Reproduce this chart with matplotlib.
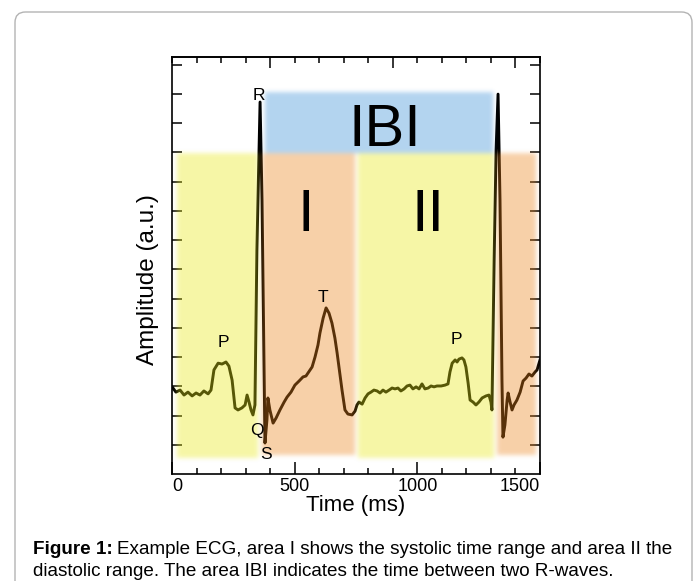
import matplotlib
matplotlib.use("Agg")
import matplotlib.pyplot as plt
from matplotlib.patches import FancyBboxPatch
import numpy as np
from math import erf

plt.rcParams['font.family'] = ['Liberation Sans', 'DejaVu Sans']

# ECG trace (time in ms, amplitude in a.u.)
time_ms = [4, 16, 33, 49, 65, 82, 98, 114, 130, 147, 159, 171, 188, 204, 220, 232, 245, 257,
           269, 285, 298, 306, 314, 322, 330, 338, 346, 359, 367, 375, 379, 387, 391, 399,
           412, 424, 440, 457, 469, 485, 501, 518, 534, 546, 554, 571, 583, 595, 603, 616,
           628, 640, 652, 664, 673, 685, 693, 705, 717, 734, 746, 754, 762, 775, 787, 799,
           811, 823, 836, 848, 860, 872, 885, 897, 909, 921, 933, 946, 958, 970, 982, 995,
           1007, 1019, 1031, 1044, 1056, 1068, 1080, 1097, 1113, 1125, 1133, 1142, 1154,
           1162, 1170, 1182, 1190, 1198, 1207, 1215, 1227, 1239, 1251, 1264, 1280, 1292,
           1300, 1304, 1313, 1321, 1329, 1337, 1345, 1349, 1357, 1366, 1370, 1378, 1386,
           1394, 1406, 1419, 1431, 1443, 1455, 1467, 1480, 1488, 1500]
amplitude = [2.94, 2.80, 2.87, 2.70, 2.80, 2.67, 2.77, 2.70, 2.84, 2.74, 2.87, 3.56, 3.79,
             3.76, 3.83, 3.69, 3.21, 2.26, 2.19, 2.26, 2.36, 2.70, 2.46, 2.19, 2.02, 2.36,
             7.66, 12.72, 9.37, 3.90, 1.06, 1.85, 2.60, 2.19, 1.74, 1.91, 2.19, 2.46, 2.63,
             2.80, 3.04, 3.18, 3.32, 3.35, 3.45, 3.66, 4.00, 4.41, 4.82, 5.33, 5.68, 5.50,
             5.16, 4.65, 4.14, 3.38, 2.87, 2.19, 2.05, 2.02, 2.15, 2.36, 2.46, 2.39, 2.60,
             2.74, 2.80, 2.87, 2.84, 2.77, 2.87, 2.80, 2.87, 2.94, 2.91, 2.94, 2.84, 2.91,
             3.01, 3.04, 2.91, 2.98, 2.91, 3.08, 2.91, 2.94, 3.01, 2.98, 3.01, 3.01, 3.04,
             3.08, 3.49, 3.79, 3.90, 3.83, 3.93, 3.97, 3.90, 3.66, 3.11, 2.53, 2.46, 2.36,
             2.46, 2.60, 2.67, 2.70, 2.46, 2.19, 7.32, 11.08, 12.99, 9.37, 3.21, 1.26, 1.68,
             2.53, 2.77, 2.46, 2.19, 2.36, 2.53, 2.80, 3.18, 3.28, 3.42, 3.35, 3.49, 3.56,
             3.90]

# Shaded areas: (start ms, end ms, bottom, top, colour)
area_start = [20, 367, 758, 1325, 379]
area_end = [351, 746, 1313, 1484, 1309]
area_bottom = [0.55, 0.65, 0.55, 0.65, 10.97]
area_top = [10.97, 10.97, 10.97, 10.97, 13.06]
area_color = ['#f7f7a6', '#f8d0a8', '#f7f7a6', '#f8d0a8', '#b3d4f0']

# Wave annotations
wave_labels = ['R', 'Q', 'S', 'T', 'P', 'P']
wave_x = [353, 347, 383, 615, 210, 1160]
wave_y = [12.95, 1.50, 0.68, 6.05, 4.50, 4.60]

area_labels = ['IBI', 'I', 'II']
area_label_x = [867, 545, 1045]
area_label_y = [11.75, 8.85, 8.85]

xticks = [0, 500, 1000, 1500]
yticks = list(range(1, 15))

fig = plt.figure(figsize=(6.97, 5.81), dpi=100)

# outer rounded frame
frame = FancyBboxPatch((15 / 697, -0.05), (692 - 15) / 697, (581 - 12) / 581 + 0.05,
                       boxstyle="round,pad=0,rounding_size=0.015",
                       transform=fig.transFigure, fc='none', ec='#b4b4b4', lw=1.0,
                       mutation_aspect=697 / 581)
fig.patches.append(frame)

ax = fig.add_axes([172 / 697, 1 - 474 / 581, (540 - 172) / 697, (474 - 57) / 581])
XMAX, YMAX = 1500, 14.26
ax.set_xlim(0, XMAX)
ax.set_ylim(0, YMAX)

ax.plot(time_ms, amplitude, color='black', lw=2.1, zorder=2, solid_joinstyle='round')

# soft-edged translucent areas rendered as an RGBA overlay
alpha = 0.38
nx, ny = 736, 834
gx = (np.arange(nx) + 0.5) / nx * XMAX
gy = (np.arange(ny) + 0.5) / ny * YMAX
verf = np.vectorize(erf)
sx = 2.2 / 0.2453
sy = 2.2 / 29.25


def ramp(v, lo, hi, s):
    return 0.25 * (1 + verf((v - lo) / (s * np.sqrt(2)))) * (1 + verf((hi - v) / (s * np.sqrt(2))))


msum = np.zeros((ny, nx))
csum = np.zeros((ny, nx, 3))
for s, e, b, t, c in zip(area_start, area_end, area_bottom, area_top, area_color):
    m = np.outer(ramp(gy, b, t, sy), ramp(gx, s, e, sx))
    cc = np.array(matplotlib.colors.to_rgb(c))
    cov = np.clip(1 - (1 - cc) / alpha, 0, 1)
    msum += m
    csum += m[..., None] * cov[None, None, :]
mtot = np.clip(msum, 0, 1)
col = csum / np.maximum(msum, 1e-9)[..., None]
rgba = np.dstack([col, alpha * mtot])
ax.imshow(rgba, extent=[0, XMAX, 0, YMAX], origin='lower', aspect='auto', zorder=3,
          interpolation='bilinear')

for lab, x, y in zip(wave_labels, wave_x, wave_y):
    ax.text(x, y, lab, fontsize=12.5, ha='center', va='center', zorder=5)
for lab, x, y in zip(area_labels, area_label_x, area_label_y):
    ax.text(x, y, lab, fontsize=43, ha='center', va='center', zorder=5)

ax.set_xticks(xticks)
ax.set_xticklabels([str(v) for v in xticks])
ax.set_xticks(np.arange(0, 1501, 100), minor=True)
ax.set_yticks(yticks)
ax.set_yticklabels([])
ax.tick_params(axis='x', which='major', direction='in', length=9, width=1.1, labelsize=13,
               pad=3, top=False)
ax.tick_params(axis='x', which='minor', direction='in', length=4.5, width=1.1, top=False)
ax.tick_params(axis='y', which='major', direction='in', length=7, width=1.1, right=True)
labs = ax.get_xticklabels()
labs[0].set_ha('left')
labs[-1].set_ha('right')
for sp in ax.spines.values():
    sp.set_linewidth(1.2)

axt = ax.secondary_xaxis('top')
axt.set_xticks([400, 900, 1400])
axt.set_xticks(np.arange(0, 1501, 100), minor=True)
axt.tick_params(which='major', direction='in', length=8, width=1.1, labeltop=False)
axt.tick_params(which='minor', direction='in', length=4, width=1.1)
axt.spines['top'].set_linewidth(1.2)

ax.set_xlabel('Time (ms)', fontsize=16, labelpad=0)
fig.text(148 / 697, 1 - 280 / 581, 'Amplitude (a.u.)', fontsize=17.5, rotation=90,
         ha='center', va='center')

# caption
renderer = fig.canvas.get_renderer()
cap_fs = 13.6
t1 = fig.text(33 / 697, 1 - 550 / 581, 'Figure 1:', fontsize=cap_fs, fontweight='bold',
              va='center', ha='left')
bb = t1.get_window_extent(renderer)
fig.text(bb.x1 / fig.bbox.width + 4 / 697, 1 - 550 / 581,
         'Example ECG, area I shows the systolic time range and area II the',
         fontsize=cap_fs, va='center', ha='left')
fig.text(33 / 697, 1 - 571 / 581,
         'diastolic range. The area IBI indicates the time between two R-waves.',
         fontsize=cap_fs, va='center', ha='left')

fig.savefig('out.png', dpi=100)
